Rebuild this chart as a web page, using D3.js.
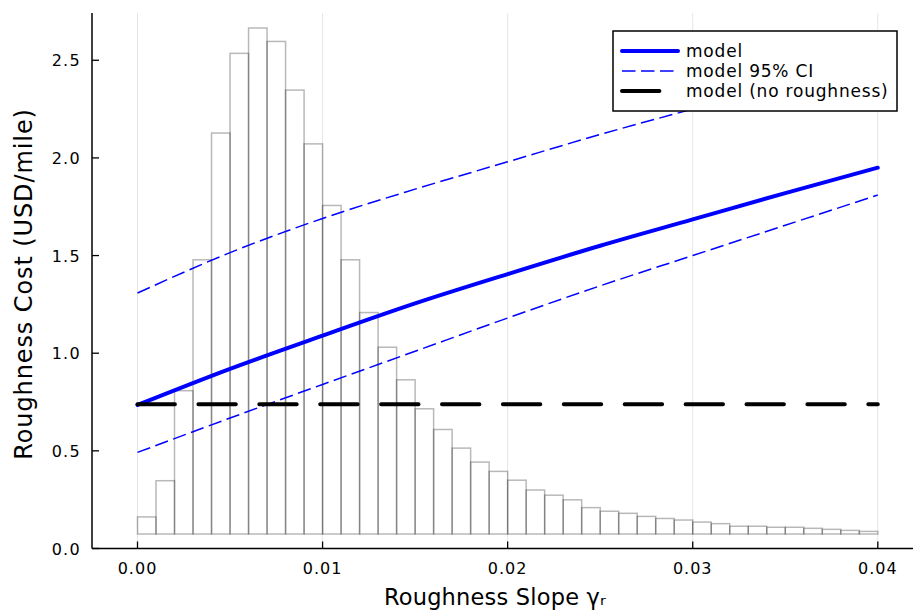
<!DOCTYPE html>
<html>
<head>
<meta charset="utf-8">
<script src="https://cdn.jsdelivr.net/npm/d3@7"></script>
<style>
  html, body { margin: 0; padding: 0; background: #fff; }
  svg { display: block; font-family: "DejaVu Sans", sans-serif; }
</style>
</head>
<body>
<svg id="chart" width="915" height="610"></svg>
<script>
// ---------- data ----------
const xTicks = [0.00, 0.01, 0.02, 0.03, 0.04];
const xTickLabels = ["0.00", "0.01", "0.02", "0.03", "0.04"];
const yTicks = [0.0, 0.5, 1.0, 1.5, 2.0, 2.5];
const yTickLabels = ["0.0", "0.5", "1.0", "1.5", "2.0", "2.5"];

// curve sample points (roughness slope)
const slope = [0.000, 0.005, 0.010, 0.015, 0.020, 0.025, 0.030, 0.035, 0.040];
const model      = [0.735, 0.920, 1.090, 1.255, 1.405, 1.550, 1.685, 1.820, 1.950];
const ciLower    = [0.492, 0.668, 0.840, 1.010, 1.180, 1.345, 1.500, 1.655, 1.810];
const ciUpper    = [1.308, 1.515, 1.690, 1.840, 1.980, 2.120, 2.250, 2.375, 2.500];
const noRough    = [0.738, 0.738, 0.738, 0.738, 0.738, 0.738, 0.738, 0.738, 0.738];

// histogram of roughness slope (bin start, width 0.001) – density
const binStart = [0.000,0.001,0.002,0.003,0.004,0.005,0.006,0.007,0.008,0.009,
                  0.010,0.011,0.012,0.013,0.014,0.015,0.016,0.017,0.018,0.019,
                  0.020,0.021,0.022,0.023,0.024,0.025,0.026,0.027,0.028,0.029,
                  0.030,0.031,0.032,0.033,0.034,0.035,0.036,0.037,0.038,0.039];
const binWidth = 0.001;
const density = [3.3,10.3,27.7,53.0,77.5,92.9,97.8,95.2,85.8,75.4,
                 63.5,53.0,42.8,36.1,29.8,24.2,20.2,16.6,13.9,12.1,
                 10.4,8.5,7.5,6.6,5.1,4.4,4.0,3.4,3.0,2.7,
                 2.3,2.0,1.5,1.5,1.3,1.3,1.1,0.9,0.7,0.5];

const legendItems = [
  {label: "model", color: "#0000ff", width: 4, dash: null},
  {label: "model 95% CI", color: "#0000ff", width: 1.5, dash: "13.5,5.5"},
  {label: "model (no roughness)", color: "#000000", width: 4, dash: "37.4,23.5"}
];

// ---------- layout ----------
const frame = {left: 92, right: 913, top: 13, bottom: 548.5};
const svg = d3.select("#chart");

const x = d3.scaleLinear().domain([0, 0.04]).range([137.5, 877.8]);
const y = d3.scaleLinear().domain([0, 2.742]).range([548.5, 13]);
const yH = d3.scaleLinear().domain([0, d3.max(density)]).range([534, 28]);

// vertical grid
svg.append("g").selectAll("line").data(xTicks).join("line")
  .attr("x1", d => x(d)).attr("x2", d => x(d))
  .attr("y1", frame.top).attr("y2", frame.bottom)
  .attr("stroke", "#000").attr("stroke-opacity", 0.1).attr("stroke-width", 1);

// histogram
svg.append("g").selectAll("rect").data(density).join("rect")
  .attr("x", (d, i) => x(binStart[i]))
  .attr("width", (d, i) => x(binStart[i] + binWidth) - x(binStart[i]))
  .attr("y", d => yH(d))
  .attr("height", d => yH(0) - yH(d))
  .attr("fill", "none")
  .attr("stroke", "#000").attr("stroke-opacity", 0.28).attr("stroke-width", 1.5);

// lines
const line = (arr) => d3.line()
  .x((d, i) => x(slope[i]))
  .y(d => y(d))
  .curve(d3.curveMonotoneX)(arr);

const g = svg.append("g");
g.append("path").attr("d", line(ciUpper)).attr("fill", "none")
  .attr("stroke", "#0000ff").attr("stroke-width", 1.5).attr("stroke-dasharray", "13.5,5.5");
g.append("path").attr("d", line(ciLower)).attr("fill", "none")
  .attr("stroke", "#0000ff").attr("stroke-width", 1.5).attr("stroke-dasharray", "13.5,5.5");
g.append("path").attr("d", line(model)).attr("fill", "none")
  .attr("stroke", "#0000ff").attr("stroke-width", 4).attr("stroke-linecap", "round");
g.append("path").attr("d", line(noRough)).attr("fill", "none")
  .attr("stroke", "#000").attr("stroke-width", 4)
  .attr("stroke-linecap", "round").attr("stroke-dasharray", "37.4,23.5");

// axes
const axG = svg.append("g");
axG.append("line").attr("x1", frame.left).attr("x2", frame.left)
  .attr("y1", frame.top).attr("y2", frame.bottom).attr("stroke", "#000").attr("stroke-width", 1.5);
axG.append("line").attr("x1", frame.left).attr("x2", frame.right)
  .attr("y1", frame.bottom).attr("y2", frame.bottom).attr("stroke", "#000").attr("stroke-width", 1.5);

// x ticks (inward)
axG.selectAll(".xt").data(xTicks).join("line").attr("class", "xt")
  .attr("x1", d => x(d)).attr("x2", d => x(d))
  .attr("y1", frame.bottom).attr("y2", frame.bottom - 7)
  .attr("stroke", "#000").attr("stroke-width", 1.3);
axG.selectAll(".xl").data(xTicks).join("text").attr("class", "xl")
  .attr("x", d => x(d)).attr("y", 574)
  .attr("text-anchor", "middle").attr("font-size", 16).attr("letter-spacing", 1)
  .text((d, i) => xTickLabels[i]);

// y ticks (inward)
axG.selectAll(".yt").data(yTicks).join("line").attr("class", "yt")
  .attr("x1", frame.left).attr("x2", frame.left + 7)
  .attr("y1", d => y(d)).attr("y2", d => y(d))
  .attr("stroke", "#000").attr("stroke-width", 1.3);
axG.selectAll(".yl").data(yTicks).join("text").attr("class", "yl")
  .attr("x", 81).attr("y", d => y(d) + 6)
  .attr("text-anchor", "end").attr("font-size", 16).attr("letter-spacing", 1.3)
  .text((d, i) => yTickLabels[i]);

// axis titles
svg.append("text").attr("x", 495).attr("y", 605)
  .attr("text-anchor", "middle").attr("font-size", 22.5).attr("letter-spacing", 0.2)
  .text("Roughness Slope γᵣ");
svg.append("text").attr("transform", "translate(32,284) rotate(-90)")
  .attr("text-anchor", "middle").attr("font-size", 24).attr("letter-spacing", 0.9)
  .text("Roughness Cost (USD/mile)");

// legend
const lg = svg.append("g");
lg.append("rect").attr("x", 613).attr("y", 31).attr("width", 284).attr("height", 80)
  .attr("fill", "#fff").attr("stroke", "#000").attr("stroke-width", 1.5);
const rowY = [51, 71, 91];
legendItems.forEach((it, i) => {
  const ln = lg.append("line").attr("x1", 622).attr("x2", 678)
    .attr("y1", rowY[i]).attr("y2", rowY[i])
    .attr("stroke", it.color).attr("stroke-width", it.width);
  if (it.width > 2) ln.attr("stroke-linecap", "round");
  if (it.dash) ln.attr("stroke-dasharray", it.dash);
  lg.append("text").attr("x", 686).attr("y", rowY[i] + 6)
    .attr("font-size", 17).attr("letter-spacing", 0.8).text(it.label);
});
</script>
</body>
</html>
